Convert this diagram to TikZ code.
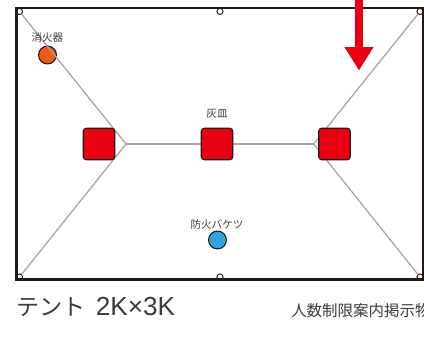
\documentclass[tikz,border=0pt]{standalone}
\usepackage{fontspec}
\setmainfont{Noto Sans CJK JP}
\newfontfamily\latinfont{Liberation Sans}
\usetikzlibrary{arrows.meta}
\definecolor{tentblack}{HTML}{231815}
\definecolor{labelgray}{HTML}{3E3A39}
\definecolor{ropegray}{HTML}{A5A5A5}
\definecolor{stovered}{HTML}{E60012}
\definecolor{extorange}{HTML}{EE5A1A}
\definecolor{bucketblue}{HTML}{2EA7E0}
\tikzset{
    ring/.style={circle,draw=tentblack,line width=0.7pt,inner sep=0pt,minimum size=4.6pt},
    stove/.style={rectangle,rounded corners=2.2pt,draw=tentblack,line width=0.8pt,fill=stovered,inner sep=0pt,minimum size=23.6pt},
    marker/.style={circle,draw=tentblack,line width=0.8pt,inner sep=0pt,minimum size=13.4pt},
    smalllabel/.style={text=labelgray,font=\fontsize{7.9}{9}\selectfont,inner sep=0pt},
    rope/.style={ropegray,line width=0.95pt}
}
\begin{document}
\begin{tikzpicture}[x=0.75pt,y=-0.75pt]
    \useasboundingbox (0,0) rectangle (424,338);

    % Fire extinguisher and bucket
    \node[marker,fill=extorange] (ext) at (47.5,55) {};
    \node[marker,fill=bucketblue] (bucket) at (217.5,240) {};

    % Ropes
    \coordinate (hubL) at (126,144);
    \coordinate (hubR) at (313.7,144);
    \foreach \name/\x/\y in {ringTL/19.5/11.5, ringTM/220/11.5, ringTR/420/11.5, ringBL/19.5/277, ringBM/220/277, ringBR/420/277}
        \node[ring] (\name) at (\x,\y) {};
    \draw[rope] (ringTL) -- (hubL) -- (ringBL);
    \draw[rope] (ringTR) -- (hubR) -- (ringBR);
    \draw[rope] (hubL) -- (hubR);

    % Tent frame
    \draw[tentblack,line width=1.6pt] (16.5,8) rectangle (423,279.5);

    % Stoves
    \node[stove] (stoveL) at (99,144) {};
    \node[stove] (stoveM) at (217,144) {};
    \node[stove] (stoveR) at (334.5,144) {};

    % Entrance arrow
    \coordinate (arrowTop) at (359,0);
    \coordinate (arrowTip) at (359,70.5);
    \draw[-{Triangle[width=20.6pt,length=17.6pt]},stovered,line width=6pt] (arrowTop) -- (arrowTip);

    % Labels
    \node[smalllabel] (extLabel) at (47.3,38) {消火器};
    \node[smalllabel] (ashLabel) at (217,114) {灰皿};
    \node[smalllabel] (bucketLabel) at (217,224) {防火バケツ};
    \node[text=labelgray,font=\fontsize{17.3}{20}\selectfont,inner sep=0pt,anchor=west] (tentLabel) at (16.5,306.5) {テント\hspace{7.5pt}{\latinfont\fontsize{19.6}{20}\selectfont 2K×3K}};
    \node[text=labelgray,font=\fontsize{11.6}{14}\selectfont,inner sep=0pt,anchor=west] (limitLabel) at (291,311) {人数制限案内掲示物};
\end{tikzpicture}
\end{document}
